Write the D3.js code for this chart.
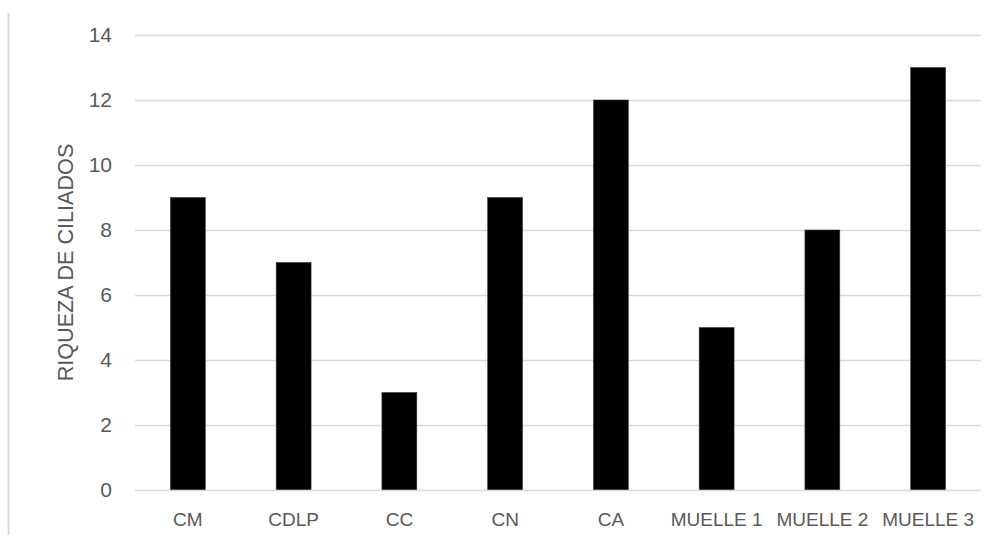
<!DOCTYPE html>
<html>
<head>
<meta charset="utf-8">
<script src="https://cdn.jsdelivr.net/npm/d3@7"></script>
<style>
  html, body { margin: 0; padding: 0; background: #fff; }
  svg { display: block; }
  text { font-family: "Liberation Sans", Arial, sans-serif; fill: #595959; }
</style>
</head>
<body>
<svg id="chart" width="999" height="535"></svg>
<script>
// Ciliate richness per sampling site
const categories = ["CM", "CDLP", "CC", "CN", "CA", "MUELLE 1", "MUELLE 2", "MUELLE 3"];
const richness = [9, 7, 3, 9, 12, 5, 8, 13];
const yTicks = [0, 2, 4, 6, 8, 10, 12, 14];
const yTitle = "RIQUEZA DE CILIADOS";

const svg = d3.select("#chart");
const margin = { left: 135, right: 18, top: 35, bottom: 45 };
const W = 999, H = 535;

const x = d3.scaleBand()
  .domain(categories)
  .range([margin.left, W - margin.right])
  .paddingInner(0.67)
  .paddingOuter(0.335);

const y = d3.scaleLinear()
  .domain([0, 14])
  .range([H - margin.bottom, margin.top]);

// Outer frame edge on the left
svg.append("line")
  .attr("x1", 8.5).attr("x2", 8.5)
  .attr("y1", 13).attr("y2", H)
  .attr("stroke", "#d9d9d9").attr("stroke-width", 2);

// Horizontal gridlines
svg.append("g")
  .selectAll("line")
  .data(yTicks.filter(d => d !== 0))
  .join("line")
  .attr("x1", margin.left).attr("x2", W - margin.right)
  .attr("y1", d => Math.round(y(d)) + 0.5).attr("y2", d => Math.round(y(d)) + 0.5)
  .attr("stroke", "#d9d9d9").attr("stroke-width", 1.3);

// Bars
svg.append("g")
  .selectAll("rect")
  .data(categories.map((c, i) => ({ c, v: richness[i] })))
  .join("rect")
  .attr("x", d => x(d.c))
  .attr("width", x.bandwidth())
  .attr("y", d => y(d.v))
  .attr("height", d => y(0) - y(d.v))
  .attr("fill", "#000")
  .attr("stroke", "#3a3a3a")
  .attr("stroke-width", 0.6);

// Category axis line
svg.append("line")
  .attr("x1", margin.left).attr("x2", W - margin.right)
  .attr("y1", Math.round(y(0)) + 0.5).attr("y2", Math.round(y(0)) + 0.5)
  .attr("stroke", "#d9d9d9").attr("stroke-width", 1.5);

// Y axis tick labels
const yAxis = d3.axisLeft(y).tickValues(yTicks).tickSize(0).tickPadding(23);
const gy = svg.append("g")
  .attr("transform", `translate(${margin.left},0)`)
  .call(yAxis);
gy.select(".domain").remove();
gy.selectAll("text")
  .style("font-family", "'Liberation Sans', Arial, sans-serif")
  .style("font-size", "21px")
  .attr("fill", "#595959");

// X axis category labels
const xAxis = d3.axisBottom(x).tickSize(0).tickPadding(23);
const gx = svg.append("g")
  .attr("transform", `translate(0,${y(0)})`)
  .call(xAxis);
gx.select(".domain").remove();
gx.selectAll("text")
  .style("font-family", "'Liberation Sans', Arial, sans-serif")
  .style("font-size", "19px")
  .attr("fill", "#595959");

// Y axis title
svg.append("text")
  .attr("transform", `translate(73,${(y(0) + y(14)) / 2}) rotate(-90)`)
  .attr("text-anchor", "middle")
  .style("font-size", "21.6px")
  .text(yTitle);
</script>
</body>
</html>
